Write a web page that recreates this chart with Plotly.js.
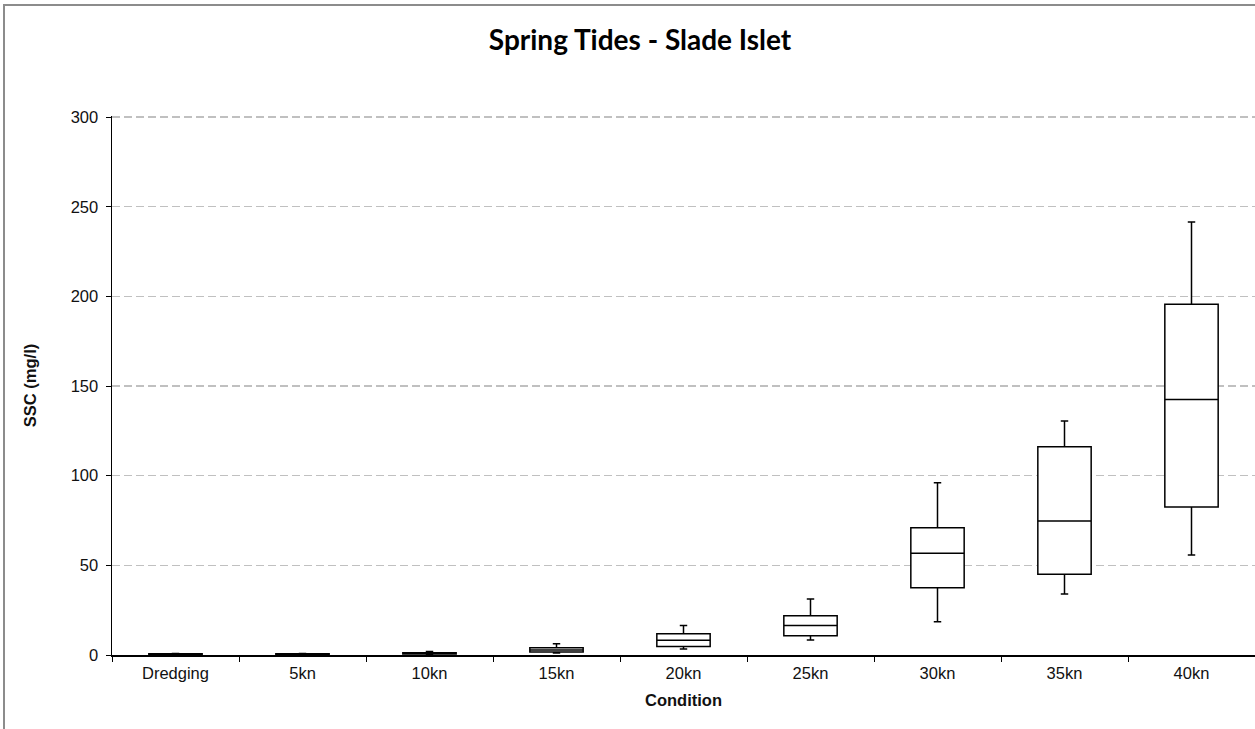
<!DOCTYPE html>
<html>
<head>
<meta charset="utf-8">
<script src="https://cdn.plot.ly/plotly-3.0.1.min.js"></script>
<style>
html,body{margin:0;padding:0;background:#fff;}
#frame{position:absolute;left:3px;top:4px;width:1260px;height:740px;border-left:2px solid #8c8c8c;border-top:2px solid #8c8c8c;pointer-events:none;z-index:10;}
#chart{position:absolute;left:0;top:0;width:1255px;height:729px;}
</style>
</head>
<body>
<div id="chart"></div>
<div id="frame"></div>
<script>
const categories = ["Dredging","5kn","10kn","15kn","20kn","25kn","30kn","35kn","40kn"];
const lowerWhisker = [0.2, 0.2, 0.4, 1.1, 3.3, 8.4, 18.6, 34.0, 55.8];
const q1Values     = [0.3, 0.3, 0.6, 1.7, 4.8, 10.8, 37.5, 45.0, 82.5];
const medianValues = [0.5, 0.5, 0.9, 2.8, 8.2, 16.4, 56.7, 74.7, 142.5];
const q3Values     = [0.7, 0.7, 1.3, 4.1, 11.9, 21.9, 71.0, 116.2, 195.6];
const upperWhisker = [0.9, 0.9, 2.0, 6.3, 16.4, 31.2, 96.1, 130.5, 241.5];
const yTicks = [0, 50, 100, 150, 200, 250, 300];

const FONT = '"Liberation Sans", Arial, sans-serif';

const trace = {
  type: 'box',
  x: categories,
  q1: q1Values,
  median: medianValues,
  q3: q3Values,
  lowerfence: lowerWhisker,
  upperfence: upperWhisker,
  fillcolor: '#ffffff',
  line: {color: '#000000', width: 1.5},
  whiskerwidth: 0.14,
  boxpoints: false,
  hoverinfo: 'skip',
  showlegend: false
};

const layout = {
  width: 1255,
  height: 729,
  margin: {l: 112, r: 0, t: 116, b: 74},
  paper_bgcolor: '#ffffff',
  plot_bgcolor: '#ffffff',
  boxgap: 0.58,
  boxgroupgap: 0,
  title: {
    text: '<b>Spring Tides - Slade Islet</b>',
    font: {family: 'Lato, "Open Sans", sans-serif', size: 28, color: '#000'},
    x: 0.51, xref: 'container', xanchor: 'center',
    y: 0.945, yref: 'container', yanchor: 'middle'
  },
  xaxis: {
    type: 'category',
    tickson: 'boundaries',
    ticks: 'outside',
    ticklen: 5,
    tickcolor: '#000',
    showline: true,
    linecolor: '#000',
    linewidth: 1.5,
    showgrid: false,
    ticklabelstandoff: 3,
    tickfont: {family: FONT, size: 16.5, color: '#111'},
    title: {text: '<b>Condition</b>', font: {family: FONT, size: 16.5, color: '#111'}, standoff: 13}
  },
  yaxis: {
    range: [0, 300.6],
    tickmode: 'array',
    tickvals: yTicks,
    ticktext: yTicks.map(String),
    ticks: 'outside',
    ticklen: 5,
    tickcolor: '#000',
    showline: true,
    linecolor: '#000',
    linewidth: 1.5,
    zeroline: false,
    showgrid: true,
    gridcolor: '#c0c0c0',
    griddash: '8px,4px',
    gridwidth: 1.3,
    ticklabelstandoff: 4,
    tickfont: {family: FONT, size: 16.5, color: '#111'},
    title: {text: '<b>SSC (mg/l)</b>', font: {family: FONT, size: 16.5, color: '#111'}, standoff: 30}
  }
};

Plotly.newPlot('chart', [trace], layout, {displayModeBar: false, staticPlot: true});
</script>
</body>
</html>
